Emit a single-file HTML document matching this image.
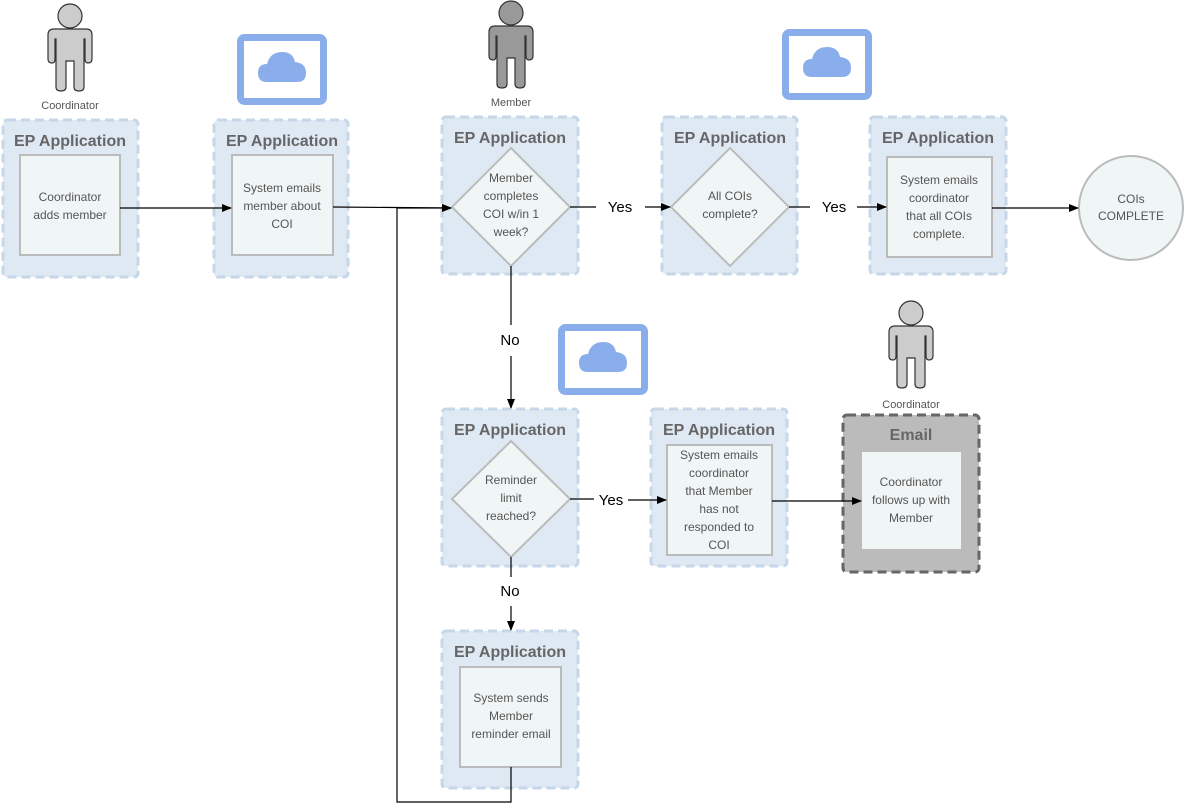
<!DOCTYPE html>
<html><head><meta charset="utf-8"><style>
html,body{margin:0;padding:0;background:#fff;width:1185px;height:803px;overflow:hidden}
svg{display:block}
.t{font-family:"Liberation Sans",sans-serif;font-weight:bold;font-size:16px;fill:#666;text-anchor:middle}
.b{font-family:"Liberation Sans",sans-serif;font-size:12px;fill:#555;text-anchor:middle}
.l{font-family:"Liberation Sans",sans-serif;font-size:15px;fill:#000;text-anchor:middle}
.c{fill:#dfe9f3;stroke:#c5d7e8;stroke-width:3;stroke-dasharray:9,5}
.i{fill:#f0f6f6;stroke:#bbb;stroke-width:2}
.ln{stroke:#000;stroke-width:1.2;fill:none}
</style></head><body>
<svg width="1185" height="803" viewBox="0 0 1185 803">
<defs>
<marker id="a" markerWidth="10" markerHeight="8" refX="9" refY="4" orient="auto" markerUnits="userSpaceOnUse"><path d="M0,0 L10,4 L0,8 Z" fill="#000"/></marker>
<path id="p" d="M0,1 A12,12 0 1 1 0,25 A12,12 0 1 1 0,1 Z M-22,32 Q-22,26 -16,26 L16,26 Q22,26 22,32 L22,56 Q22,60 18,60 Q15,60 15,56 L15,36 L14,36 L14,84 Q14,88 9,88 Q4,88 4,84 L4,58 L-4,58 L-4,84 Q-4,88 -9,88 Q-14,88 -14,84 L-14,36 L-15,36 L-15,56 Q-15,60 -18,60 Q-22,60 -22,56 Z" stroke="#333" stroke-width="1.2"/>
<g id="cl"><rect x="3.5" y="3.5" width="83" height="64" rx="4" fill="#fff" stroke="#8aaeeb" stroke-width="7"/><path d="M30,48 Q21,48 21,39 Q21,30 30,30 Q33,18 45,18 Q56,18 58,28 Q69,29 69,39 Q69,48 60,48 Z" fill="#8aaeeb"/></g>
</defs>

<use href="#p" x="70" y="3" fill="#ccc"/>
<text class="b" x="70" y="109" style="font-size:11px">Coordinator</text>
<use href="#p" x="511" y="0" fill="#999"/>
<text class="b" x="511" y="106" style="font-size:11px">Member</text>
<use href="#p" x="911" y="300" fill="#ccc"/>
<text class="b" x="911" y="408" style="font-size:11px">Coordinator</text>

<use href="#cl" x="237" y="34"/>
<use href="#cl" x="782" y="29"/>
<use href="#cl" x="558" y="324"/>

<rect class="c" x="3" y="120" width="135" height="157" rx="4"/>
<text class="t" x="70" y="146">EP Application</text>
<rect class="i" x="20" y="155" width="100" height="100"/>
<text class="b" x="70" y="201">Coordinator</text><text class="b" x="70" y="219">adds member</text>

<rect class="c" x="214" y="120" width="134" height="157" rx="4"/>
<text class="t" x="282" y="146">EP Application</text>
<rect class="i" x="232" y="155" width="101" height="100"/>
<text class="b" x="282" y="192">System emails</text><text class="b" x="282" y="210">member about</text><text class="b" x="282" y="228">COI</text>

<rect class="c" x="442" y="117" width="136" height="157" rx="4"/>
<text class="t" x="510" y="143">EP Application</text>
<path class="i" d="M511,148 L570,207 L511,266 L452,207 Z"/>
<text class="b" x="511" y="182">Member</text><text class="b" x="511" y="200">completes</text><text class="b" x="511" y="218">COI w/in 1</text><text class="b" x="511" y="236">week?</text>

<rect class="c" x="662" y="117" width="135" height="157" rx="4"/>
<text class="t" x="730" y="143">EP Application</text>
<path class="i" d="M730,148 L789,207 L730,266 L671,207 Z"/>
<text class="b" x="730" y="200">All COIs</text><text class="b" x="730" y="218">complete?</text>

<rect class="c" x="870" y="117" width="136" height="157" rx="4"/>
<text class="t" x="938" y="143">EP Application</text>
<rect class="i" x="887" y="157" width="105" height="100"/>
<text class="b" x="939" y="184">System emails</text><text class="b" x="939" y="202">coordinator</text><text class="b" x="939" y="220">that all COIs</text><text class="b" x="939" y="238">complete.</text>

<circle cx="1131" cy="208" r="52" fill="#f0f6f6" stroke="#bbb" stroke-width="2"/>
<text class="b" x="1131" y="203">COIs</text><text class="b" x="1131" y="220">COMPLETE</text>

<rect class="c" x="442" y="409" width="136" height="157" rx="4"/>
<text class="t" x="510" y="435">EP Application</text>
<path class="i" d="M511,441 L570,499 L511,557 L452,499 Z"/>
<text class="b" x="511" y="484">Reminder</text><text class="b" x="511" y="502">limit</text><text class="b" x="511" y="520">reached?</text>

<rect class="c" x="651" y="409" width="136" height="157" rx="4"/>
<text class="t" x="719" y="435">EP Application</text>
<rect class="i" x="667" y="445" width="105" height="110"/>
<text class="b" x="719" y="459">System emails</text><text class="b" x="719" y="477">coordinator</text><text class="b" x="719" y="495">that Member</text><text class="b" x="719" y="513">has not</text><text class="b" x="719" y="531">responded to</text><text class="b" x="719" y="549">COI</text>

<rect x="843" y="415" width="136" height="157" rx="4" fill="#bbb" stroke="#666" stroke-width="3" stroke-dasharray="9,5"/>
<text class="t" x="911" y="440">Email</text>
<rect x="862" y="452" width="99" height="97" fill="#f0f6f6"/>
<text class="b" x="911" y="486">Coordinator</text><text class="b" x="911" y="504">follows up with</text><text class="b" x="911" y="522">Member</text>

<rect class="c" x="442" y="631" width="136" height="157" rx="4"/>
<text class="t" x="510" y="657">EP Application</text>
<rect class="i" x="460" y="667" width="101" height="100"/>
<text class="b" x="511" y="702">System sends</text><text class="b" x="511" y="720">Member</text><text class="b" x="511" y="738">reminder email</text>

<path class="ln" d="M120,208 L231,208" marker-end="url(#a)"/>
<path class="ln" d="M333,207 L451,208" marker-end="url(#a)"/>
<path class="ln" d="M511,767 L511,802 L397,802 L397,208 L451,208" marker-end="url(#a)"/>
<path class="ln" d="M570,207 L596,207"/><text class="l" x="620" y="212">Yes</text>
<path class="ln" d="M645,207 L670,207" marker-end="url(#a)"/>
<path class="ln" d="M789,207 L810,207"/><text class="l" x="834" y="212">Yes</text>
<path class="ln" d="M857,207 L886,207" marker-end="url(#a)"/>
<path class="ln" d="M992,208 L1078,208" marker-end="url(#a)"/>
<path class="ln" d="M511,266 L511,325"/><text class="l" x="510" y="345">No</text>
<path class="ln" d="M511,356 L511,408" marker-end="url(#a)"/>
<path class="ln" d="M570,499 L594,499"/><text class="l" x="611" y="505">Yes</text>
<path class="ln" d="M628,500 L666,500" marker-end="url(#a)"/>
<path class="ln" d="M772,501 L861,501" marker-end="url(#a)"/>
<path class="ln" d="M511,557 L511,577"/><text class="l" x="510" y="596">No</text>
<path class="ln" d="M511,606 L511,630" marker-end="url(#a)"/>
</svg>
</body></html>
